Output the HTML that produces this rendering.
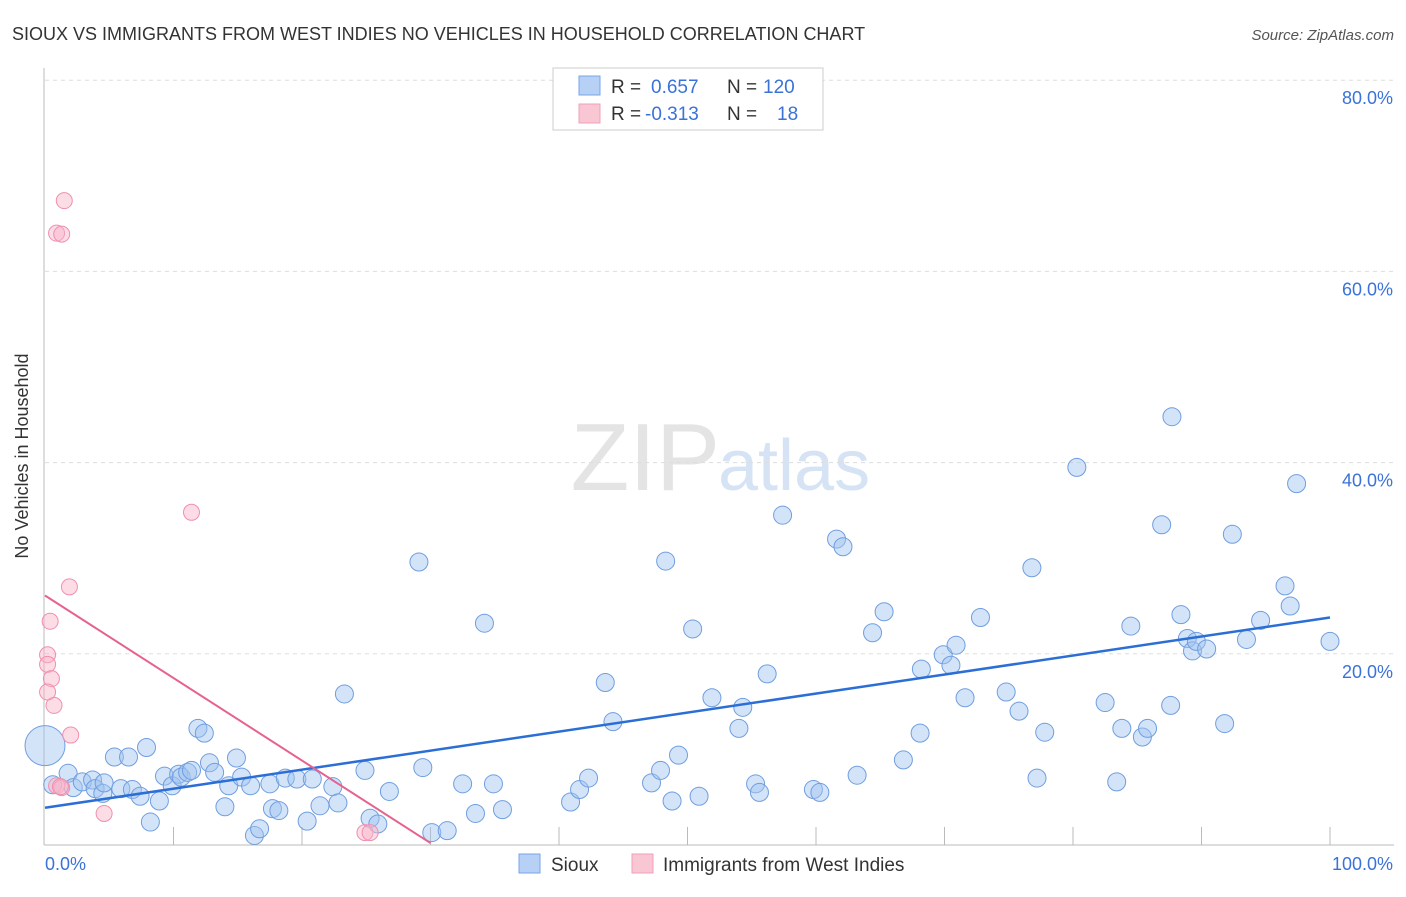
<!DOCTYPE html>
<html><head><meta charset="utf-8"><style>
body{margin:0;background:#fff;font-family:"Liberation Sans",sans-serif;}
svg text{font-family:"Liberation Sans",sans-serif;}
</style></head><body>
<svg id="chart" width="1406" height="892" xmlns="http://www.w3.org/2000/svg">
<text x="12" y="40" font-size="18" fill="#333">SIOUX VS IMMIGRANTS FROM WEST INDIES NO VEHICLES IN HOUSEHOLD CORRELATION CHART</text>
<text x="1394" y="40" font-size="15" fill="#555" font-style="italic" text-anchor="end">Source: ZipAtlas.com</text>
<text x="720" y="490" font-size="96" fill="#e4e4e4" text-anchor="end" font-family="Liberation Serif">ZIP</text>
<text x="718" y="490" font-size="72" fill="#d6e3f5">atlas</text>
<g id="grid"></g>
<line x1="44" y1="68" x2="44" y2="845" stroke="#bbb"/>
<line x1="44" y1="845" x2="1394" y2="845" stroke="#bbb"/>
<g id="ticks"></g>
<text x="28" y="456" font-size="18" fill="#333" text-anchor="middle" transform="rotate(-90 28 456)">No Vehicles in Household</text>
<text x="45" y="870" font-size="18" fill="#3a72d8">0.0%</text>
<text x="1393" y="870" font-size="18" fill="#3a72d8" text-anchor="end">100.0%</text>
<g id="pts"></g>
<g id="lines"></g>
<g>
<rect x="553" y="68" width="270" height="62" fill="#fff" stroke="#ccc"/>
<rect x="579" y="76" width="21" height="19" fill="#b7d0f5" stroke="#7aa6e8"/>
<rect x="579" y="104" width="21" height="19" fill="#f9c6d4" stroke="#f0a0b8"/>
<text x="611" y="93" font-size="19" fill="#333">R = <tspan fill="#3a72d8" x="651">0.657</tspan><tspan x="727" fill="#333">N = </tspan><tspan fill="#3a72d8" x="763">120</tspan></text>
<text x="611" y="120" font-size="19" fill="#333">R = <tspan fill="#3a72d8" x="645">-0.313</tspan><tspan x="727" fill="#333">N = </tspan><tspan fill="#3a72d8" x="777">18</tspan></text>
</g>
<g>
<rect x="519" y="854" width="21" height="19" fill="#b7d0f5" stroke="#7aa6e8"/>
<text x="551" y="871" font-size="19" fill="#333">Sioux</text>
<rect x="632" y="854" width="21" height="19" fill="#f9c6d4" stroke="#f0a0b8"/>
<text x="663" y="871" font-size="19" fill="#333">Immigrants from West Indies</text>
</g>
</svg>
<script>
const yTicks=[20,40,60,80];
const yTickLabels=["20.0%","40.0%","60.0%","80.0%"];
const xTicks=[10,20,30,40,50,60,70,80,90,100];
const siouxX=[0.6,1.8,2.2,2.9,3.7,3.9,4.5,4.6,5.4,5.9,6.5,6.8,7.4,7.9,8.2,8.9,9.3,9.9,10.4,10.6,11.1,11.4,11.9,12.4,12.8,13.2,14.0,14.3,14.9,15.3,16.0,16.3,16.7,17.5,17.7,18.2,18.7,19.6,20.4,20.8,21.4,22.4,22.8,23.3,24.9,25.3,25.9,26.8,29.1,29.4,30.1,31.3,32.5,33.5,34.2,34.9,35.6,40.9,41.6,42.3,43.6,44.2,47.2,47.9,48.3,48.8,49.3,50.4,50.9,51.9,54.0,54.3,55.3,55.6,56.2,57.4,59.8,60.3,61.6,62.1,63.2,64.4,65.3,66.8,68.1,68.2,69.9,70.5,70.9,71.6,72.8,74.8,75.8,76.8,77.2,77.8,80.3,82.5,83.4,83.8,84.5,85.4,85.8,86.9,87.6,87.7,88.4,88.9,89.3,89.6,90.4,91.8,92.4,93.5,94.6,96.5,96.9,97.4,100.0,0.0];
const siouxY=[6.3,7.5,6.0,6.6,6.8,5.9,5.4,6.5,9.2,5.9,9.2,5.8,5.1,10.2,2.4,4.6,7.2,6.2,7.4,7.1,7.6,7.8,12.2,11.7,8.6,7.6,4.0,6.2,9.1,7.1,6.2,1.0,1.7,6.4,3.8,3.6,7.0,6.9,2.5,6.9,4.1,6.1,4.4,15.8,7.8,2.8,2.2,5.6,29.6,8.1,1.3,1.5,6.4,3.3,23.2,6.4,3.7,4.5,5.8,7.0,17.0,12.9,6.5,7.8,29.7,4.6,9.4,22.6,5.1,15.4,12.2,14.4,6.4,5.5,17.9,34.5,5.8,5.5,32.0,31.2,7.3,22.2,24.4,8.9,11.7,18.4,19.9,18.8,20.9,15.4,23.8,16.0,14.0,29.0,7.0,11.8,39.5,14.9,6.6,12.2,22.9,11.3,12.2,33.5,14.6,44.8,24.1,21.6,20.3,21.3,20.5,12.7,32.5,21.5,23.5,27.1,25.0,37.8,21.3,10.4];
const siouxR=[9,9,9,9,9,9,9,9,9,9,9,9,9,9,9,9,9,9,9,9,9,9,9,9,9,9,9,9,9,9,9,9,9,9,9,9,9,9,9,9,9,9,9,9,9,9,9,9,9,9,9,9,9,9,9,9,9,9,9,9,9,9,9,9,9,9,9,9,9,9,9,9,9,9,9,9,9,9,9,9,9,9,9,9,9,9,9,9,9,9,9,9,9,9,9,9,9,9,9,9,9,9,9,9,9,9,9,9,9,9,9,9,9,9,9,9,9,9,9,20];
const wiX=[0.9,1.3,1.5,0.9,1.3,11.4,1.9,0.4,0.2,0.2,0.5,0.7,2.0,0.2,4.6,24.9,25.3,1.2];
const wiY=[6.2,6.0,67.4,64.0,63.9,34.8,27.0,23.4,19.9,18.9,17.4,14.6,11.5,16.0,3.3,1.3,1.3,6.1];
const siouxLine=[3.9,23.8];
const wiLine=[26.1,0.2,30.0];
const X=v=>45+v*12.85, Y=v=>845-v*9.56;
const NS="http://www.w3.org/2000/svg";
function mk(t,a,p){const e=document.createElementNS(NS,t);for(const k in a)e.setAttribute(k,a[k]);p.appendChild(e);return e;}
const grid=document.getElementById('grid');
yTicks.forEach((v,i)=>{
 const l=mk('line',{x1:45,x2:1394,y1:Y(v),y2:Y(v),stroke:'#ddd','stroke-dasharray':'4,4'},grid);
 
 
 const t=mk('text',{x:1393,y:Y(v)+24,'font-size':18,fill:'#3a72d8','text-anchor':'end'},grid);
 t.textContent=yTickLabels[i];
 
 
});
const tk=document.getElementById('ticks');
xTicks.forEach(v=>{
 const l=mk('line',{x1:X(v),x2:X(v),y1:827,y2:845,stroke:'#bbb'},tk);
 
 
});
const pts=document.getElementById('pts');
siouxX.forEach((v,i)=>{
 const c=mk('circle',{cx:X(v),cy:Y(siouxY[i]),r:siouxR[i],fill:'rgba(160,195,240,0.45)',stroke:'#6f9ee0','stroke-width':1},pts);
 
 
});
wiX.forEach((v,i)=>{
 const c=mk('circle',{cx:X(v),cy:Y(wiY[i]),r:8,fill:'rgba(248,180,200,0.45)',stroke:'#f08fb0','stroke-width':1},pts);
 
 
});
const ln=document.getElementById('lines');
const b=mk('line',{x1:X(0),y1:Y(siouxLine[0]),x2:X(100),y2:Y(siouxLine[1]),stroke:'#2a6ed6','stroke-width':2.5},ln);


const p=mk('line',{x1:X(0),y1:Y(wiLine[0]),x2:X(wiLine[2]),y2:Y(wiLine[1]),stroke:'#e5638e','stroke-width':2},ln);


</script>
</body></html>
